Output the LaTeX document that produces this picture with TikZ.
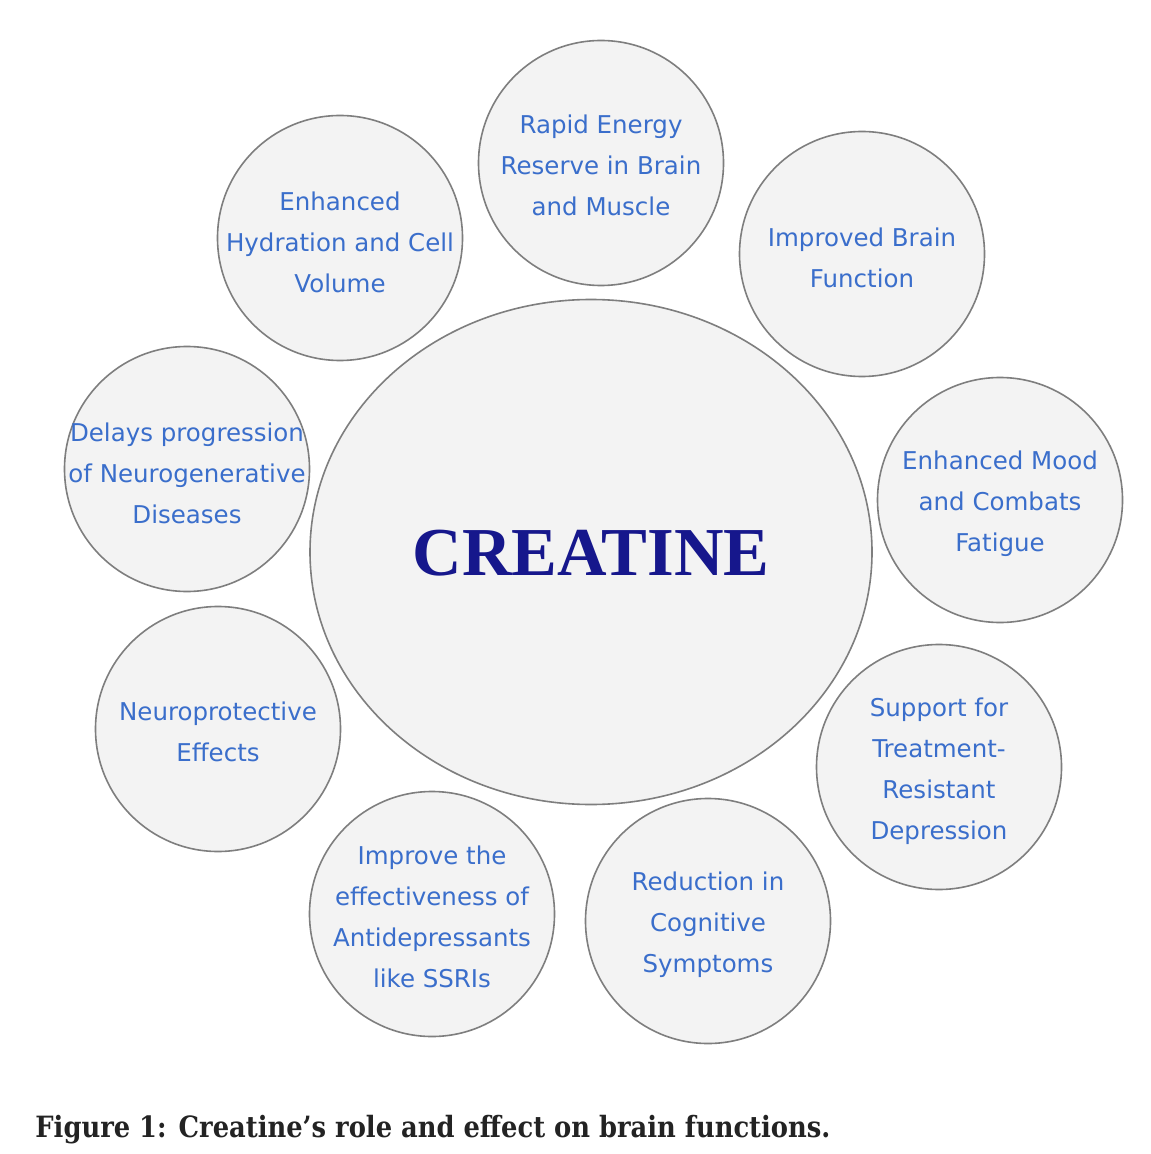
\documentclass[tikz,border=0pt]{standalone}
\usepackage{fontspec}
\usepackage{tikz}
\usepackage{xcolor}
\usetikzlibrary{shapes.geometric}

\newfontfamily\bubfont{DejaVu Sans}
\newfontfamily\titlefont{Liberation Serif}
\newfontfamily\capfont[FakeStretch=0.88]{DejaVu Serif}

\definecolor{bubfill}{HTML}{F3F3F3}
\definecolor{bubline}{HTML}{7E7E7E}
\definecolor{bubtxt}{HTML}{3A6ECB}
\definecolor{navy}{HTML}{16178C}
\definecolor{capgray}{HTML}{232323}

\tikzset{
  bubble/.style={circle, draw=bubline, fill=bubfill, line width=0.8pt,
    minimum size=122.5pt, inner sep=0pt},
  bubtext/.style={text=bubtxt, align=center, inner sep=0pt,
    font=\bubfont\fontsize{12.25}{20.5}\selectfont},
}

\begin{document}
\begin{tikzpicture}[x=0.5pt,y=-0.5pt]

\useasboundingbox (0,0) rectangle (1150,1154);

%%%%%%%%%%%%%%%%%%%%%%%%%%%% centre %%%%%%%%%%%%%%%%%%%%
\node[ellipse, draw=bubline, fill=bubfill, line width=0.8pt,
  minimum width=281pt, minimum height=252.5pt, inner sep=0pt] (creatine) at (591,552) {};
\node[text=navy, font=\titlefont\bfseries\fontsize{34.3}{40}\selectfont] (crtext) at (591,553) {CREATINE};

%%%%%%%%%%%%%%%%%%%%%%%%%%%% bubbles %%%%%%%%%%%%%%%%%%%%
\node[bubble] (energy) at (601,163) {};
\node[bubtext] at (601,165) {Rapid Energy\\Reserve in Brain\\and Muscle};

\node[bubble] (hydration) at (340,238) {};
\node[bubtext] at (340,242) {Enhanced\\Hydration and Cell\\Volume};

\node[bubble] (brain) at (862,254) {};
\node[bubtext] at (862,258) {Improved Brain\\Function};

\node[bubble] (delays) at (187,469) {};
\node[bubtext] at (187,473) {Delays progression\\of Neurogenerative\\Diseases};

\node[bubble] (mood) at (1000,500) {};
\node[bubtext] at (1000,504) {Enhanced Mood\\and Combats\\Fatigue};

\node[bubble] (neuro) at (218,729) {};
\node[bubtext] at (218,732) {Neuroprotective\\Effects};

\node[bubble] (support) at (939,767) {};
\node[bubtext] at (939,771) {Support for\\Treatment-\\Resistant\\Depression};

\node[bubble] (ssri) at (432,914) {};
\node[bubtext] at (432,917) {Improve the\\effectiveness of\\Antidepressants\\like SSRIs};

\node[bubble] (cognitive) at (708,921) {};
\node[bubtext] at (708,925) {Reduction in\\Cognitive\\Symptoms};

%%%%%%%%%%%%%%%%%%%%%%%%%%%% caption %%%%%%%%%%%%%%%%%%%%
\node[anchor=base west, inner sep=0pt, text=capgray,
  font=\capfont\bfseries\fontsize{14.65}{17}\selectfont] (caption) at (35,1137)
  {Figure 1: Creatine’s role and effect on brain functions.};

\end{tikzpicture}
\end{document}
